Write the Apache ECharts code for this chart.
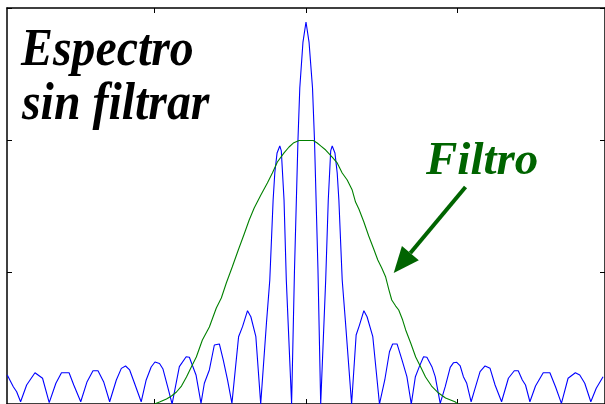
<!DOCTYPE html>
<html>
<head>
<meta charset="utf-8">
<script src="https://cdn.jsdelivr.net/npm/echarts@6/dist/echarts.min.js"></script>
<style>
  html, body { margin: 0; padding: 0; background: #fff; }
  #chart { width: 605px; height: 404px; }
</style>
</head>
<body>
<div id="chart"></div>
<script>
// Unfiltered spectrum: normalized frequency and magnitude at each polyline vertex
const spectrumFreq = [
  -1.972, -1.932, -1.910, -1.884, -1.844, -1.789, -1.739, -1.695, -1.651, -1.614,
  -1.564, -1.533, -1.487, -1.445, -1.406, -1.373, -1.336, -1.296, -1.252, -1.219,
  -1.191, -1.164, -1.132, -1.088, -1.055, -1.022, -0.997, -0.967, -0.944, -0.913,
  -0.884, -0.836, -0.791, -0.770, -0.726, -0.693, -0.671, -0.638, -0.605, -0.572,
  -0.546, -0.518, -0.489, -0.445, -0.419, -0.386, -0.364, -0.331, -0.299, -0.261,
  -0.239, -0.217, -0.206, -0.191, -0.173, -0.163, -0.145, -0.130, -0.095, -0.076,
  -0.053, -0.041, -0.020, 0.000, 0.020, 0.043, 0.056, 0.079, 0.097, 0.130,
  0.147, 0.163, 0.173, 0.191, 0.206, 0.217, 0.239, 0.261, 0.301, 0.331,
  0.353, 0.382, 0.403, 0.441, 0.485, 0.520, 0.551, 0.572, 0.601, 0.634,
  0.666, 0.695, 0.722, 0.748, 0.776, 0.798, 0.831, 0.853, 0.886, 0.919,
  0.952, 0.974, 0.995, 1.018, 1.039, 1.061, 1.090, 1.116, 1.149, 1.182,
  1.215, 1.248, 1.291, 1.336, 1.375, 1.401, 1.428, 1.449, 1.478, 1.515,
  1.566, 1.610, 1.647, 1.686, 1.730, 1.778, 1.807, 1.840, 1.880, 1.916,
  1.961
];
const spectrumMag = [
  0.220, 0.131, 0.093, 0.017, 0.144, 0.237, 0.195, 0.010, 0.157, 0.237,
  0.237, 0.144, 0.017, 0.169, 0.252, 0.252, 0.169, 0.017, 0.182, 0.270,
  0.288, 0.258, 0.157, 0.017, 0.182, 0.280, 0.318, 0.307, 0.265, 0.129,
  0.000, 0.283, 0.358, 0.354, 0.220, 0.005, 0.157, 0.258, 0.447, 0.455,
  0.333, 0.182, 0.005, 0.510, 0.586, 0.707, 0.661, 0.510, 0.000, 0.614,
  0.939, 1.545, 1.750, 1.902, 1.955, 1.917, 1.545, 0.939, 0.000, 1.015,
  2.000, 2.394, 2.742, 2.894, 2.742, 2.394, 2.000, 1.015, 0.000, 0.939,
  1.545, 1.917, 1.955, 1.902, 1.750, 1.545, 0.939, 0.614, 0.000, 0.523,
  0.598, 0.707, 0.661, 0.510, 0.000, 0.182, 0.396, 0.455, 0.455, 0.333,
  0.207, 0.000, 0.207, 0.283, 0.358, 0.354, 0.283, 0.207, 0.005, 0.131,
  0.278, 0.313, 0.316, 0.288, 0.207, 0.157, 0.017, 0.119, 0.245, 0.288,
  0.270, 0.144, 0.017, 0.195, 0.252, 0.252, 0.182, 0.144, 0.017, 0.136,
  0.237, 0.237, 0.131, 0.005, 0.195, 0.237, 0.220, 0.157, 0.017, 0.119,
  0.207
];

// Filter response: normalized frequency and gain
const filterFreq = [
  -1.000, -0.967, -0.921, -0.888, -0.855, -0.822, -0.789, -0.757, -0.724, -0.684,
  -0.638, -0.592, -0.559, -0.526, -0.487, -0.447, -0.408, -0.375, -0.342, -0.298,
  -0.255, -0.222, -0.189, -0.145, -0.112, -0.084, -0.072, -0.046, 0.048, 0.074,
  0.097, 0.130, 0.173, 0.206, 0.239, 0.272, 0.305, 0.327, 0.349, 0.382,
  0.414, 0.447, 0.474, 0.500, 0.526, 0.546, 0.566, 0.592, 0.612, 0.638,
  0.658, 0.691, 0.724, 0.757, 0.789, 0.829, 0.875, 0.921, 0.954, 0.987,
  1.000
];
const filterGain = [
  0.000, 0.015, 0.038, 0.061, 0.091, 0.136, 0.205, 0.280, 0.356, 0.485,
  0.583, 0.727, 0.803, 0.917, 1.038, 1.167, 1.288, 1.394, 1.485, 1.583,
  1.674, 1.750, 1.833, 1.902, 1.947, 1.977, 1.989, 1.996, 1.996, 1.977,
  1.955, 1.924, 1.871, 1.826, 1.750, 1.697, 1.621, 1.530, 1.477, 1.379,
  1.273, 1.174, 1.091, 1.030, 0.962, 0.871, 0.788, 0.742, 0.712, 0.636,
  0.561, 0.462, 0.356, 0.280, 0.205, 0.136, 0.083, 0.045, 0.030, 0.015,
  0.000
];

// Tick positions
const freqTicks = [-1, 0, 1];
const magRange = [0, 3];
const freqRange = [-1.9737, 1.9737];

// Annotation arrow (tail -> tip), in data coordinates
const arrowTail = [1.053, 1.644];
const arrowTip = [0.579, 0.992];

const zip = (xs, ys) => xs.map((x, i) => [x, ys[i]]);

const chart = echarts.init(document.getElementById('chart'), null, { renderer: 'canvas' });

const frameLine = { show: true, lineStyle: { color: '#000', width: 1.5 } };
const tickStyle = { show: true, inside: true, length: 5, lineStyle: { color: '#000', width: 1 } };

function xAxisAt(position) {
  return {
    type: 'value', position: position,
    min: freqRange[0], max: freqRange[1],
    axisLine: Object.assign({ onZero: false }, frameLine),
    axisTick: Object.assign({ customValues: freqTicks }, tickStyle),
    axisLabel: { show: false },
    splitLine: { show: false }
  };
}
function yAxisAt(position) {
  return {
    type: 'value', position: position,
    min: magRange[0], max: magRange[1], interval: 1,
    axisLine: Object.assign({ onZero: false }, frameLine),
    axisTick: tickStyle,
    axisLabel: { show: false },
    splitLine: { show: false }
  };
}

chart.setOption({
  animation: false,
  backgroundColor: '#fff',
  grid: { left: 7, top: 8, width: 600, height: 396, containLabel: false },
  xAxis: [xAxisAt('bottom'), xAxisAt('top')],
  yAxis: [yAxisAt('left'), yAxisAt('right')],
  series: [
    {
      name: 'Espectro', type: 'line', xAxisIndex: 0, yAxisIndex: 0,
      data: zip(spectrumFreq, spectrumMag),
      symbol: 'none', clip: true,
      lineStyle: { color: '#0000ff', width: 1.1 }
    },
    {
      name: 'Filtro', type: 'line', xAxisIndex: 0, yAxisIndex: 0,
      data: zip(filterFreq, filterGain),
      symbol: 'none', clip: true,
      lineStyle: { color: '#008000', width: 1.1 }
    }
  ]
});

// Labels and arrow
const tail = chart.convertToPixel({ gridIndex: 0 }, arrowTail);
const tip = chart.convertToPixel({ gridIndex: 0 }, arrowTip);
const dx = tip[0] - tail[0], dy = tip[1] - tail[1];
const len = Math.hypot(dx, dy);
const ux = dx / len, uy = dy / len;
const headLen = 26, headHalf = 11;
const base = [tip[0] - ux * headLen, tip[1] - uy * headLen];
const head = [
  tip,
  [base[0] + uy * headHalf, base[1] - ux * headHalf],
  [base[0] - uy * headHalf, base[1] + ux * headHalf]
];

const arrowGreen = '#006400';
const titleFont = { fontFamily: '"Liberation Serif", "Times New Roman", serif', fontWeight: 'bold', fontStyle: 'italic' };

chart.setOption({
  graphic: [
    {
      type: 'text', x: 21, y: 26, scaleX: 0.92,
      style: Object.assign({ text: 'Espectro', fontSize: 52, fill: '#000', verticalAlign: 'top' }, titleFont)
    },
    {
      type: 'text', x: 22, y: 80, scaleX: 0.92,
      style: Object.assign({ text: 'sin filtrar', fontSize: 52, fill: '#000', verticalAlign: 'top' }, titleFont)
    },
    {
      type: 'text', x: 426, y: 138,
      style: Object.assign({ text: 'Filtro', fontSize: 47, fill: arrowGreen, verticalAlign: 'top' }, titleFont)
    },
    {
      type: 'polyline',
      shape: { points: [tail, base] },
      style: { stroke: arrowGreen, lineWidth: 4, fill: null }
    },
    {
      type: 'polygon',
      shape: { points: head },
      style: { fill: arrowGreen, stroke: null }
    }
  ]
});
</script>
</body>
</html>
